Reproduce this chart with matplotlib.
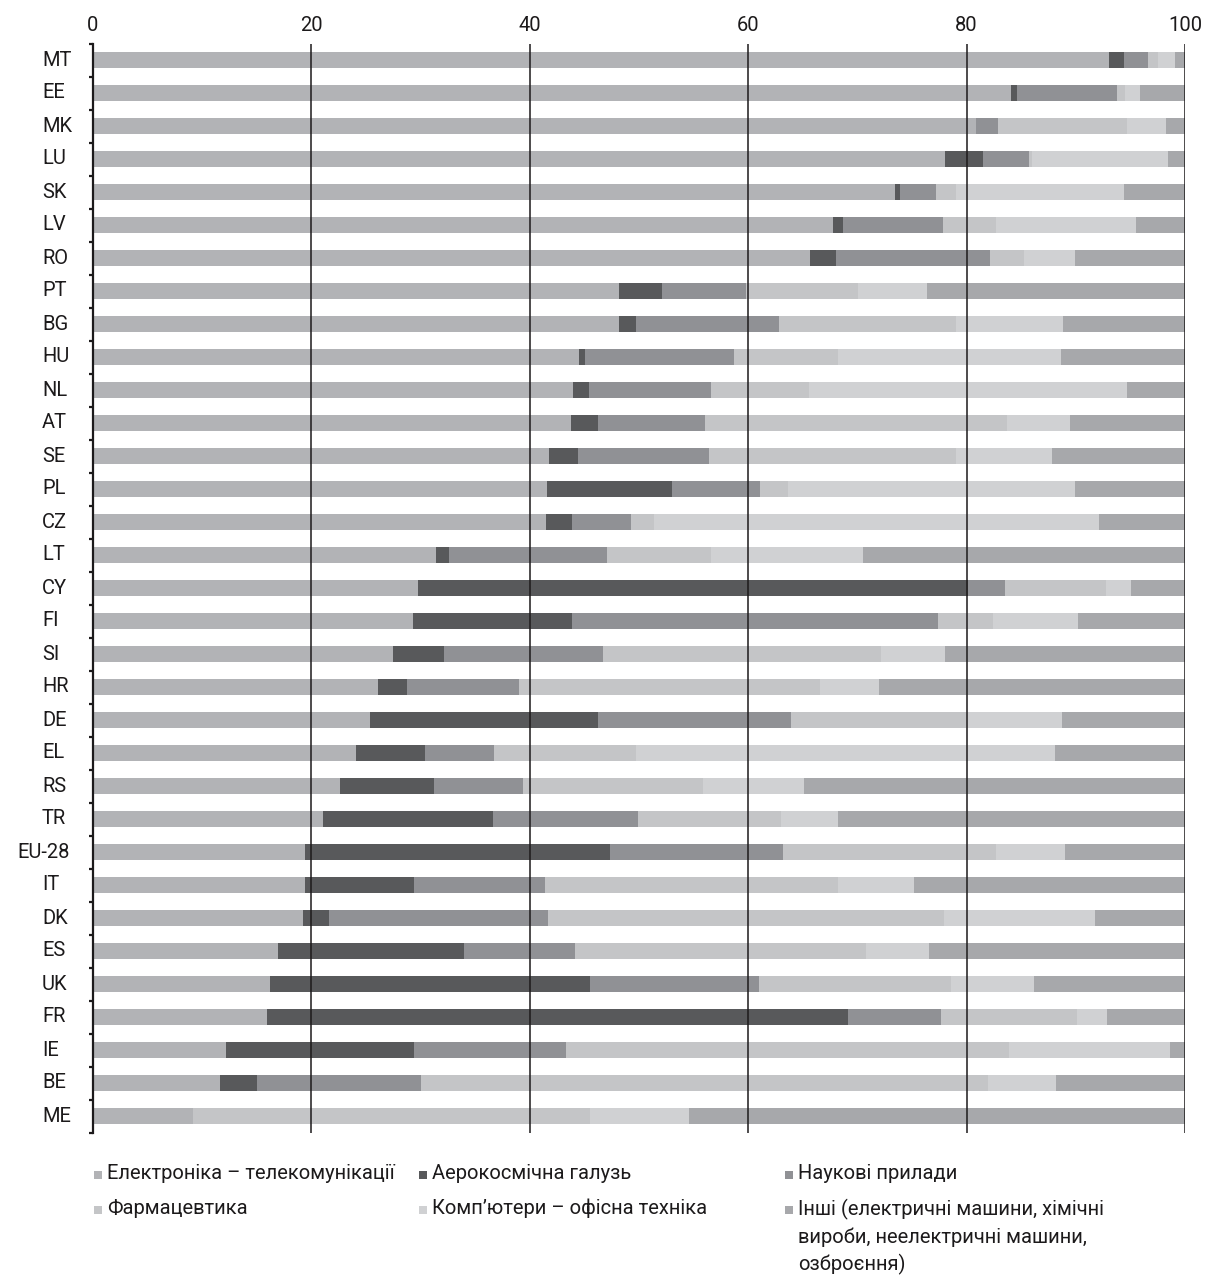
import numpy as np
import matplotlib.pyplot as plt
from matplotlib.lines import Line2D

plt.rcParams['font.family'] = ['Roboto', 'DejaVu Sans']

countries = ["MT", "EE", "MK", "LU", "SK", "LV", "RO", "PT", "BG", "HU", "NL", "AT",
             "SE", "PL", "CZ", "LT", "CY", "FI", "SI", "HR", "DE", "EL", "RS", "TR",
             "EU-28", "IT", "DK", "ES", "UK", "FR", "IE", "BE", "ME"]

electronics = [93.0, 84.1, 80.9, 78.0, 73.4, 67.8, 65.7, 48.2, 48.2, 44.5, 44.0, 43.8,
               41.8, 41.6, 41.5, 31.4, 29.8, 29.3, 27.5, 26.1, 25.4, 24.1, 22.6, 21.1,
               19.4, 19.4, 19.2, 16.9, 16.2, 15.9, 12.2, 11.6, 9.2]
aerospace = [1.4, 0.5, 0.0, 3.5, 0.5, 0.9, 2.3, 3.9, 1.5, 0.6, 1.4, 2.4,
             2.6, 11.4, 2.4, 1.2, 50.3, 14.6, 4.6, 2.7, 20.8, 6.3, 8.6, 15.5,
             27.9, 10.0, 2.4, 17.1, 29.3, 53.2, 17.2, 3.4, 0.0]
instruments = [2.2, 9.2, 2.0, 4.2, 3.3, 9.1, 14.1, 7.7, 13.1, 13.6, 11.2, 9.8,
               12.0, 8.1, 5.4, 14.5, 3.4, 33.5, 14.6, 10.2, 17.7, 6.3, 8.2, 13.3,
               15.9, 12.0, 20.1, 10.1, 15.5, 8.6, 13.9, 15.0, 0.0]
pharma = [0.9, 0.7, 11.8, 0.3, 1.8, 4.9, 3.2, 10.3, 16.2, 9.5, 9.0, 27.7,
          22.6, 2.5, 2.1, 9.5, 9.3, 5.0, 25.5, 27.6, 16.0, 13.0, 16.5, 13.1,
          19.5, 26.8, 36.2, 26.7, 17.6, 12.4, 40.6, 52.0, 36.3]
computers = [1.6, 1.4, 3.6, 12.4, 15.4, 12.8, 4.6, 6.3, 9.8, 20.4, 29.1, 5.8,
             8.8, 26.3, 40.7, 13.9, 2.3, 7.8, 5.8, 5.4, 8.8, 38.4, 9.2, 5.2,
             6.3, 7.0, 13.9, 5.8, 7.6, 2.8, 14.7, 6.2, 9.1]
others = [0.9, 4.1, 1.7, 1.6, 5.6, 4.5, 10.1, 23.6, 11.2, 11.4, 5.3, 10.5,
          12.2, 10.1, 7.9, 29.5, 4.9, 9.8, 22.0, 28.0, 11.3, 11.9, 34.9, 31.8,
          11.0, 24.8, 8.2, 23.4, 13.8, 7.1, 1.4, 11.8, 45.4]

labels = ["Електроніка – телекомунікації", "Аерокосмічна галузь", "Наукові прилади",
          "Фармацевтика", "Комп’ютери – офісна техніка",
          "Інші (електричні машини, хімічні\nвироби, неелектричні машини,\nозброєння)"]
colors = ["#b2b3b6", "#58595b", "#909195", "#c4c5c7", "#d0d1d3", "#a7a8ab"]

series = [electronics, aerospace, instruments, pharma, computers, others]
txt = '#1c1a1b'

W, H = 1208, 1283
fig = plt.figure(figsize=(W / 100, H / 100), dpi=100)
ax = fig.add_axes([93 / W, 1 - 1132.5 / H, 1092 / W, (1132.5 - 43.5) / H])

y = np.arange(len(countries))
left = np.zeros(len(countries))
for vals, c in zip(series, colors):
    vals = np.array(vals)
    ax.barh(y, vals, left=left, height=0.5, color=c, linewidth=0)
    left += vals

ax.set_xlim(0, 100)
ax.set_ylim(len(countries) - 0.5, -0.5)
ax.xaxis.tick_top()
ax.set_xticks([0, 20, 40, 60, 80, 100])
ax.tick_params(axis='x', length=0, pad=6, labelsize=14.5, colors=txt)
ax.grid(axis='x', color=txt, linewidth=1.1)
ax.set_axisbelow(False)

for s in ['top', 'right', 'bottom']:
    ax.spines[s].set_visible(False)
ax.spines['left'].set_color(txt)
ax.spines['left'].set_linewidth(1.6)

ax.set_yticks(y)
ax.set_yticklabels([])
ax.tick_params(axis='y', which='major', length=0)
ax.set_yticks(np.arange(len(countries) + 1) - 0.5, minor=True)
ax.tick_params(axis='y', which='minor', length=3, width=1.6, color=txt)

# country labels: left aligned like in the original, long one pushed left
for i, c in enumerate(countries):
    if len(c) > 3:
        ax.text(-0.021, i, c, transform=ax.get_yaxis_transform(), ha='right',
                va='center', fontsize=14.5, color=txt)
    else:
        ax.text(-0.0467, i, c, transform=ax.get_yaxis_transform(), ha='left',
                va='center', fontsize=14.5, color=txt)

# legend drawn by hand (3 columns, 2 rows), marker on first text line
col_x = [98, 423, 789]
row_y = [1175, 1210]
for i, (lab, c) in enumerate(zip(labels, colors)):
    cx = col_x[i % 3]
    cy = row_y[i // 3]
    fig.add_artist(Line2D([cx / W], [1 - cy / H], marker='s', markersize=6,
                          color=c, markeredgewidth=0, linestyle='none',
                          transform=fig.transFigure))
    fig.text((cx + 9) / W, 1 - (cy - 11) / H, lab, ha='left', va='top',
             fontsize=14.5, color=txt, linespacing=1.45)

fig.savefig("out.png", dpi=100)
